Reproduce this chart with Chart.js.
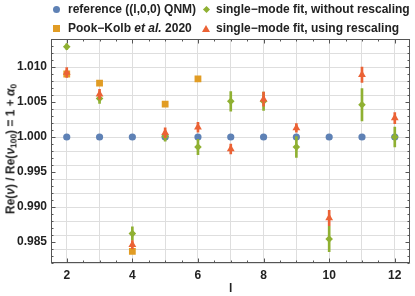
<!DOCTYPE html>
<html>
<head>
<meta charset="utf-8">
<script src="https://cdn.jsdelivr.net/npm/chart.js@4.4.1/dist/chart.umd.min.js"></script>
<style>
  html, body { margin: 0; padding: 0; background: #fff; }
  #wrap { position: relative; width: 415px; height: 296px; font-family: "Liberation Sans", Arial, sans-serif; font-weight: bold; color: #222; }
  #wrap canvas { position: absolute; left: 0; top: 0; }
  .item { position: absolute; font-size: 12px; line-height: 14px; white-space: nowrap; }
  .mk { position: absolute; }
  .circle { width: 7px; height: 7px; border-radius: 50%; background: #5E81B5; }
  .square { width: 7px; height: 7px; background: #E19C24; }
  .diamond { width: 5px; height: 5px; background: #8FB032; transform: rotate(45deg); }
  .tri { width: 0; height: 0; border-left: 4px solid transparent; border-right: 4px solid transparent; border-bottom: 7px solid #EB6235; }
  #ytitle { position: absolute; left: 11px; top: 149px; transform: translate(-50%, -50%) rotate(-90deg); font-size: 12px; white-space: nowrap; }
  sub { font-size: 0.7em; vertical-align: -0.25em; }
</style>
</head>
<body>
<div id="wrap">
  <canvas id="chart" width="415" height="296"></canvas>
  <div class="mk circle" style="left:53px; top:6px;"></div>
  <div class="item" style="left:68px; top:2px;">reference ((l,0,0) QNM)</div>
  <div class="mk diamond" style="left:204px; top:7px;"></div>
  <div class="item" style="left:216px; top:2px;">single−mode fit, without rescaling</div>
  <div class="mk square" style="left:53px; top:25px;"></div>
  <div class="item" style="left:68px; top:21px;">Pook−Kolb <i>et al.</i> 2020</div>
  <div class="mk tri" style="left:202px; top:25px;"></div>
  <div class="item" style="left:216px; top:21px;">single−mode fit, using rescaling</div>
  <div id="ytitle">Re(<i>ν</i>) / Re(<i>ν</i><sub>100</sub>) = 1 + <i>α</i><sub>0</sub></div>
</div>
<script>
const ls = [2, 3, 4, 5, 6, 7, 8, 9, 10, 11, 12];
const reference = [1, 1, 1, 1, 1, 1, 1, 1, 1, 1, 1];

const pookL = [2, 3, 4, 5, 6];
const pookKolb = [1.0090, 1.0077, 0.98366, 1.0047, 1.0083];

const noRescaling = [1.0129, 1.0055, 0.9862, 1.0001, 0.99857, 1.0051, 1.0051, 0.99857, 0.98543, 1.0046, 1.0000];
const noRescalingErr = [0.0004, 0.0007, 0.00095, 0.0007, 0.0011, 0.0014, 0.0013, 0.0015, 0.0018, 0.0023, 0.0014];

const rescaling = [1.0092, 1.0061, 0.9846, 1.0006, 1.0014, 0.99829, 1.0054, 1.0013, 0.98843, 1.0089, 1.0027];
const rescalingErr = [0.0007, 0.0007, 0.0006, 0.0007, 0.0007, 0.0007, 0.0010, 0.0006, 0.0011, 0.0011, 0.0008];

const xTickLabels = [2, 4, 6, 8, 10, 12];
const yTickLabels = ["0.985", "0.990", "0.995", "1.000", "1.005", "1.010"];

const blue = "#5E81B5", orange = "#E19C24", green = "#8FB032", red = "#EB6235";
const gridColor = "#dedede";
const frameColor = "#555";
const tickFont = { family: "'Liberation Sans', Arial, sans-serif", size: 12, weight: "bold" };

function points(xs, vals) {
  return xs.map((x, i) => ({ x: x, y: vals[i] }));
}

function errorBars(vals, errs) {
  return ls.map((x, i) => ({ x: x, y: [vals[i] - errs[i], vals[i] + errs[i]] }));
}

const framePlugin = {
  id: "frame",
  beforeDatasetsDraw(chart) {
    const { ctx, chartArea: a, scales: { x, y } } = chart;
    const L = Math.round(a.left) + 0.5, R = Math.round(a.right) - 0.5;
    const T = Math.round(a.top) + 0.5, B = Math.round(a.bottom) - 0.5;
    ctx.save();
    ctx.strokeStyle = frameColor;
    ctx.lineWidth = 1;
    ctx.beginPath();
    y.ticks.forEach(t => {
      const py = Math.round(y.getPixelForValue(t.value)) + 0.5;
      const len = t.label ? 4 : 2;
      ctx.moveTo(L, py); ctx.lineTo(L + len, py);
      ctx.moveTo(R, py); ctx.lineTo(R - len, py);
    });
    x.ticks.forEach(t => {
      const px = Math.round(x.getPixelForValue(t.value)) + 0.5;
      const len = t.label ? 4 : 2;
      ctx.moveTo(px, B); ctx.lineTo(px, B - len);
      ctx.moveTo(px, T); ctx.lineTo(px, T + len);
    });
    ctx.stroke();
    ctx.strokeRect(L, T, R - L, B - T);
    ctx.restore();
  }
};

new Chart(document.getElementById("chart"), {
  type: "scatter",
  data: {
    datasets: [
      { type: "scatter", data: points(ls, rescaling), pointStyle: "triangle", pointRadius: 4.5,
        backgroundColor: red, borderWidth: 0, order: 0 },
      { type: "bar", data: errorBars(rescaling, rescalingErr), backgroundColor: red,
        barThickness: 2, grouped: false, order: 1 },
      { type: "scatter", data: points(ls, noRescaling), pointStyle: "rectRot", pointRadius: 3.8,
        backgroundColor: green, borderWidth: 0, order: 2 },
      { type: "bar", data: errorBars(noRescaling, noRescalingErr), backgroundColor: green,
        barThickness: 2, grouped: false, order: 3 },
      { type: "scatter", data: points(pookL, pookKolb), pointStyle: "rect", pointRadius: 4.8,
        backgroundColor: orange, borderWidth: 0, order: 4 },
      { type: "scatter", data: points(ls, reference), pointStyle: "circle", pointRadius: 3.6,
        backgroundColor: blue, borderWidth: 0, order: 5 }
    ]
  },
  options: {
    responsive: false,
    animation: false,
    events: [],
    layout: { padding: { top: 39, right: 3, left: 0, bottom: 0 } },
    plugins: { legend: { display: false }, tooltip: { enabled: false } },
    scales: {
      x: {
        type: "linear",
        min: 1.52,
        max: 12.47,
        offset: false,
        afterBuildTicks: ax => {
          const t = [];
          for (let k = 4; k <= 24; k++) t.push({ value: k / 2 });
          ax.ticks = t;
        },
        afterFit: ax => { ax.height = 33; },
        ticks: {
          autoSkip: false, maxRotation: 0, padding: 5, color: "#222", font: tickFont,
          callback: v => xTickLabels.includes(v) ? String(v) : ""
        },
        grid: {
          drawTicks: false, offset: false,
          color: c => Number.isInteger(c.tick.value) ? gridColor : "transparent"
        },
        border: { display: false },
        title: { display: true, text: "l", color: "#222", font: { family: tickFont.family, size: 12, weight: "bold" }, padding: 0 }
      },
      y: {
        type: "linear",
        min: 0.982,
        max: 1.014,
        beginAtZero: false,
        afterBuildTicks: ax => {
          const t = [];
          for (let k = 982; k <= 1014; k++) t.push({ value: k / 1000 });
          ax.ticks = t;
        },
        afterFit: ax => { ax.width = 51; },
        ticks: {
          autoSkip: false, padding: 4, color: "#222", font: tickFont,
          callback: v => yTickLabels.includes(v.toFixed(3)) ? v.toFixed(3) : ""
        },
        grid: {
          drawTicks: false,
          color: c => Math.round(c.tick.value * 1000) % 2 === 0 ? gridColor : "transparent"
        },
        border: { display: false }
      }
    }
  },
  plugins: [framePlugin]
});
</script>
</body>
</html>
